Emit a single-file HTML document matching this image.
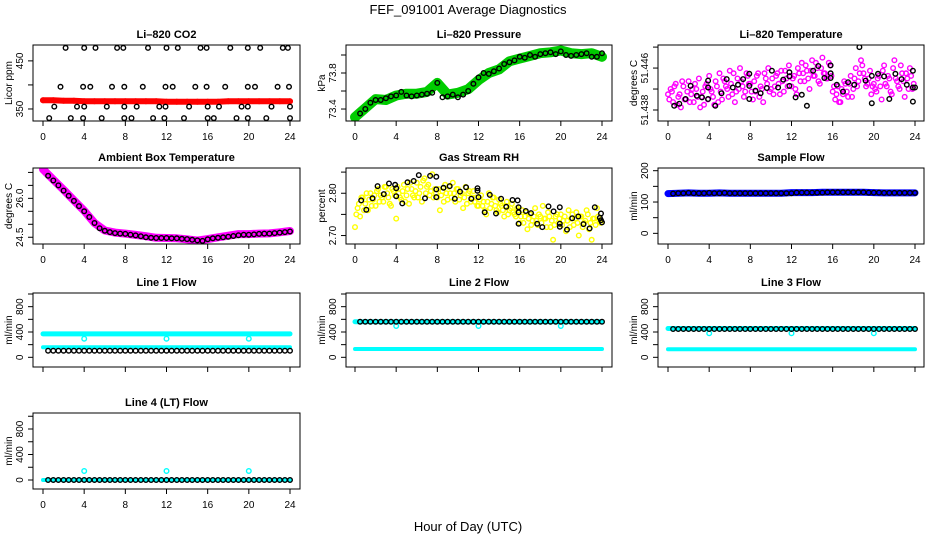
<!DOCTYPE html>
<html><head><meta charset="utf-8"><style>
html,body{margin:0;padding:0;background:#fff}
svg{display:block;font-family:"Liberation Sans",sans-serif}
</style></head><body>
<svg id="c" width="936" height="540" viewBox="0 0 936 540">
<text x="468" y="14" text-anchor="middle" font-size="13">FEF_091001  Average Diagnostics</text>
<text x="468" y="531" text-anchor="middle" font-size="13">Hour of Day (UTC)</text>
</svg>
<script>
const tHour=[0,1,2,3,4,5,6,7,8,9,10,11,12,13,14,15,16,17,18,19,20,21,22,23,24];
const tHalf=[0.5,1,1.5,2,2.5,3,3.5,4,4.5,5,5.5,6,6.5,7,7.5,8,8.5,9,9.5,10,10.5,11,11.5,12,12.5,13,13.5,14,14.5,15,15.5,16,16.5,17,17.5,18,18.5,19,19.5,20,20.5,21,21.5,22,22.5,23,23.5,24];
const tQuarter=[0,0.25,0.5,0.75,1,1.25,1.5,1.75,2,2.25,2.5,2.75,3,3.25,3.5,3.75,4,4.25,4.5,4.75,5,5.25,5.5,5.75,6,6.25,6.5,6.75,7,7.25,7.5,7.75,8,8.25,8.5,8.75,9,9.25,9.5,9.75,10,10.25,10.5,10.75,11,11.25,11.5,11.75,12,12.25,12.5,12.75,13,13.25,13.5,13.75,14,14.25,14.5,14.75,15,15.25,15.5,15.75,16,16.25,16.5,16.75,17,17.25,17.5,17.75,18,18.25,18.5,18.75,19,19.25,19.5,19.75,20,20.25,20.5,20.75,21,21.25,21.5,21.75,22,22.25,22.5,22.75,23,23.25,23.5,23.75];
const tQuarter2=tQuarter.map(t=>t+0.125);
const xTicks=[0,4,8,12,16,20,24];

const co2Red=[368,368,367,367,366,366,366,366,366,366,366,366,365,365,365,365,365,365,366,366,366,366,366,366,366];
const co2BlackT=[0.6,1.1,1.7,2.2,2.7,3.3,3.9,3.9,4.0,4.0,4.6,5.1,5.7,6.2,6.7,7.2,7.8,7.9,7.9,7.9,8.6,9.1,9.7,10.2,10.7,11.3,11.8,11.9,12.0,11.9,12.6,13.1,13.7,14.2,14.8,15.3,15.9,15.9,16.0,16.0,16.6,17.1,17.7,18.2,18.8,19.3,19.9,19.9,19.9,19.9,20.6,21.1,21.7,22.2,22.8,23.3,23.8,23.9,24.0,24.0];
const co2BlackV=[331,355,396,477,331,355,331,396,477,355,396,477,331,355,396,477,477,396,331,355,331,355,396,477,331,355,331,396,477,355,396,477,331,355,396,477,477,396,355,331,331,355,396,477,331,355,331,396,477,355,396,477,331,355,396,477,477,396,355,331];

const presGreen=[73.31,73.41,73.51,73.50,73.55,73.57,73.57,73.59,73.69,73.56,73.58,73.62,73.72,73.80,73.84,73.93,73.96,73.99,74.02,74.03,74.05,74.02,74.01,74.02,73.98];
const presBlack=[73.35,73.40,73.47,73.50,73.50,73.52,73.54,73.55,73.59,73.55,73.54,73.55,73.56,73.57,73.58,73.69,73.53,73.54,73.56,73.53,73.56,73.60,73.68,73.75,73.80,73.79,73.82,73.85,73.90,73.92,73.94,73.98,73.97,74.00,73.98,74.01,74.02,74.03,74.01,74.04,74.00,73.99,74.00,74.01,74.02,73.98,73.98,74.02];

const tempMag=[51.4410,51.4420,51.4395,51.4430,51.4405,51.4385,51.4425,51.4400,51.4435,51.4410,51.4395,51.4420,51.4440,51.4405,51.4390,51.4430,
51.4445,51.4415,51.4390,51.4425,51.4450,51.4400,51.4435,51.4420,51.4455,51.4410,51.4395,51.4440,51.4460,51.4425,51.4415,51.4445,
51.4430,51.4400,51.4415,51.4450,51.4425,51.4395,51.4440,51.4460,51.4420,51.4410,51.4445,51.4430,51.4455,51.4415,51.4440,51.4465,
51.4425,51.4445,51.4410,51.4450,51.4470,51.4435,51.4455,51.4420,51.4475,51.4445,51.4460,51.4430,51.4480,51.4450,51.4440,51.4465,
51.4415,51.4400,51.4425,51.4395,51.4410,51.4430,51.4405,51.4445,51.4420,51.4460,51.4435,51.4475,51.4450,51.4425,51.4440,51.4410,
51.4430,51.4415,51.4445,51.4400,51.4465,51.4425,51.4440,51.4410,51.4475,51.4435,51.4420,51.4450,51.4405,51.4440,51.4460,51.4420];
const tempMag2=[51.4400,51.4415,51.4425,51.4390,51.4410,51.4435,51.4400,51.4415,51.4395,51.4420,51.4430,51.4405,51.4385,51.4415,51.4425,51.4400,
51.4420,51.4405,51.4435,51.4395,51.4415,51.4440,51.4425,51.4405,51.4430,51.4450,51.4415,51.4420,51.4435,51.4405,51.4450,51.4430,
51.4415,51.4435,51.4445,51.4405,51.4420,51.4450,51.4430,51.4415,51.4440,51.4425,51.4450,51.4410,51.4435,51.4455,51.4425,51.4445,
51.4440,51.4420,51.4460,51.4435,51.4450,51.4465,51.4440,51.4455,51.4445,51.4470,51.4435,51.4460,51.4450,51.4440,51.4470,51.4445,
51.4425,51.4410,51.4395,51.4420,51.4435,51.4415,51.4430,51.4405,51.4440,51.4425,51.4450,51.4465,51.4440,51.4430,51.4455,51.4425,
51.4420,51.4440,51.4425,51.4455,51.4430,51.4445,51.4415,51.4460,51.4440,51.4425,51.4465,51.4435,51.4450,51.4420,51.4445,51.4430];
const tempBlackT=[0.6,1.1,1.7,2.2,2.8,3.3,3.9,3.9,3.9,4.6,5.2,5.7,6.3,6.8,7.3,7.9,7.9,7.9,8.5,9.0,9.6,10.1,10.7,11.2,11.8,11.8,11.8,12.4,13.0,13.5,14.1,14.6,15.2,15.8,15.8,15.8,16.4,17.0,17.5,18.1,18.6,19.2,19.8,19.8,20.4,21.0,21.5,22.1,22.7,23.2,23.8,23.8,23.8,24.0];
const tempBlackV=[51.4388,51.4392,51.4401,51.4426,51.4407,51.4404,51.4436,51.4423,51.4401,51.4388,51.4412,51.4439,51.4423,51.4428,51.4439,51.4449,51.4426,51.4401,51.4417,51.4412,51.4422,51.4455,51.4423,51.4438,51.4444,51.4452,51.4426,51.4404,51.4409,51.4388,51.4455,51.4464,51.4441,51.4450,51.4465,51.4441,51.4428,51.4415,51.4433,51.4428,51.4500,51.4436,51.4445,51.4393,51.4449,51.4444,51.4401,51.4449,51.4439,51.4428,51.4455,51.4423,51.4396,51.4423];

const ambMag=[27.12,26.72,26.33,25.92,25.52,25.05,24.76,24.68,24.64,24.59,24.54,24.48,24.47,24.46,24.42,24.37,24.43,24.50,24.56,24.62,24.62,24.64,24.65,24.69,24.74];
const ambBlack=[26.87,26.69,26.50,26.30,26.10,25.90,25.70,25.50,25.28,25.05,24.85,24.75,24.70,24.66,24.64,24.63,24.60,24.57,24.54,24.50,24.48,24.47,24.47,24.47,24.46,24.46,24.44,24.43,24.40,24.38,24.36,24.42,24.46,24.48,24.50,24.52,24.55,24.58,24.60,24.60,24.61,24.63,24.64,24.64,24.66,24.68,24.70,24.72];

const rhYellow=[2.720,2.765,2.745,2.790,2.775,2.760,2.800,2.785,2.770,2.810,2.795,2.780,2.815,2.790,2.770,2.805,
2.740,2.800,2.785,2.820,2.795,2.775,2.810,2.790,2.825,2.800,2.780,2.835,2.815,2.795,2.845,2.810,
2.790,2.760,2.805,2.820,2.785,2.800,2.825,2.780,2.810,2.795,2.765,2.815,2.800,2.780,2.805,2.790,
2.770,2.795,2.780,2.750,2.800,2.775,2.790,2.760,2.785,2.770,2.745,2.780,2.760,2.775,2.750,2.765,
2.730,2.760,2.745,2.715,2.750,2.735,2.765,2.725,2.745,2.770,2.740,2.755,2.720,2.690,2.745,2.730,
2.750,2.735,2.710,2.760,2.740,2.725,2.755,2.700,2.745,2.730,2.760,2.715,2.690,2.740,2.765,2.735];
const rhYellow2=[2.750,2.775,2.790,2.760,2.800,2.785,2.770,2.795,2.805,2.780,2.790,2.815,2.800,2.775,2.810,2.795,
2.815,2.790,2.805,2.780,2.810,2.825,2.795,2.805,2.790,2.815,2.830,2.800,2.820,2.805,2.790,2.800,
2.810,2.795,2.780,2.800,2.815,2.790,2.800,2.810,2.785,2.800,2.790,2.775,2.805,2.790,2.780,2.770,
2.785,2.770,2.760,2.780,2.765,2.790,2.770,2.755,2.775,2.760,2.770,2.750,2.765,2.755,2.745,2.760,
2.745,2.730,2.755,2.740,2.725,2.745,2.735,2.750,2.730,2.740,2.720,2.745,2.735,2.725,2.750,2.740,
2.725,2.745,2.735,2.720,2.750,2.740,2.730,2.745,2.720,2.735,2.750,2.730,2.740,2.725,2.745,2.730];
const rhBlackT=[0.6,1.1,1.7,2.2,2.8,3.3,3.9,4.0,4.0,4.6,5.1,5.7,6.2,6.8,7.3,7.9,7.9,7.9,8.6,9.2,9.7,10.2,10.8,11.3,11.9,11.9,12.0,12.6,13.1,13.7,14.2,14.7,15.3,15.8,15.9,15.9,15.9,16.6,17.1,17.7,18.2,18.8,19.3,19.9,19.9,19.9,20.6,21.1,21.7,22.2,22.8,23.3,23.8,23.9,24.0,23.9];
const rhBlackV=[2.783,2.761,2.788,2.817,2.798,2.823,2.820,2.812,2.793,2.776,2.826,2.829,2.843,2.788,2.841,2.839,2.809,2.791,2.813,2.817,2.787,2.804,2.814,2.787,2.812,2.806,2.791,2.755,2.796,2.752,2.787,2.768,2.784,2.783,2.767,2.755,2.728,2.758,2.753,2.728,2.720,2.769,2.757,2.767,2.728,2.721,2.714,2.741,2.745,2.727,2.717,2.767,2.742,2.752,2.731,2.736];

const sampBlue=[127,128,129,128,128,129,128,128,128,128,128,128,130,130,130,131,131,131,131,131,130,129,129,129,129];
const sampBlack=[127,128,128,129,128,128,128,129,128,128,129,128,128,128,128,128,128,128,128,128,128,128,128,128,130,130,130,130,130,130,131,131,131,131,131,131,131,131,130,130,130,129,129,129,129,129,129,129];

const dipT=[4,12,20];
const l1Hi=[370,370,370,370,370,370,370,370,370,370,370,370,370,370,370,370,370,370,370,370,370,370,370,370,370];
const l1Lo=[158,158,158,158,158,158,158,158,158,158,158,158,158,158,158,158,158,158,158,158,158,158,158,158,158];
const l1Black=[104,104,104,104,104,104,104,104,104,104,104,104,104,104,104,104,104,104,104,104,104,104,104,104,104,104,104,104,104,104,104,104,104,104,104,104,104,104,104,104,104,104,104,104,104,104,104,104];
const l1Dip=[294,294,294];
const l2Hi=[562,562,562,562,562,562,562,562,562,562,562,562,562,562,562,562,562,562,562,562,562,562,562,562,562];
const l2Lo=[131,131,131,131,131,131,131,131,131,131,131,131,131,131,131,131,131,131,131,131,131,131,131,131,131];
const l2Black=[562,562,562,562,562,562,562,562,562,562,562,562,562,562,562,562,562,562,562,562,562,562,562,562,562,562,562,562,562,562,562,562,562,562,562,562,562,562,562,562,562,562,562,562,562,562,562,562];
const l2Dip=[495,495,495];
const l3Hi=[455,455,455,455,455,455,455,455,455,455,455,455,455,455,455,455,455,455,455,455,455,455,455,455,455];
const l3Lo=[126,126,126,126,126,126,126,126,126,126,126,126,126,126,126,126,126,126,126,126,126,126,126,126,126];
const l3Black=[447,447,447,447,447,447,447,447,447,447,447,447,447,447,447,447,447,447,447,447,447,447,447,447,447,447,447,447,447,447,447,447,447,447,447,447,447,447,447,447,447,447,447,447,447,447,447,447];
const l3Dip=[380,380,380];
const l4Cyan=[0,0,0,0,0,0,0,0,0,0,0,0,0,0,0,0,0,0,0,0,0,0,0,0,0];
const l4Black=[0,0,0,0,0,0,0,0,0,0,0,0,0,0,0,0,0,0,0,0,0,0,0,0,0,0,0,0,0,0,0,0,0,0,0,0,0,0,0,0,0,0,0,0,0,0,0,0];
const l4Dip=[141,141,141];

const NS='http://www.w3.org/2000/svg';
const svg=document.getElementById('c');
function mk(tag,attrs,parent){const e=document.createElementNS(NS,tag);for(const k in attrs)e.setAttribute(k,attrs[k]);(parent||svg).appendChild(e);return e;}

const cols=[{l:33,r:300,x0:43,x24:290},{l:346,r:612,x0:355,x24:602},{l:658,r:924,x0:668,x24:915}];
const rows=[{t:45,b:121},{t:168,b:244},{t:293,b:367},{t:413,b:489}];

function panel(p){
  const c=cols[p.col],rw=rows[p.row];
  const g=mk('g',{});
  
  
  const xs=v=>c.x0+(v/24)*(c.x24-c.x0);
  const ys=v=>rw.b-(v-p.ylo)/(p.yhi-p.ylo)*(rw.b-rw.t);
  const cp='clip-'+p.name;
  const cl=mk('clipPath',{id:cp},g);mk('rect',{x:c.l,y:rw.t,width:c.r-c.l,height:rw.b-rw.t},cl);
  const dg=mk('g',{'clip-path':'url(#'+cp+')'},g);
  p.series.forEach(s=>{
    if(s.kind==='band'){
      const pts=s.x.map((t,i)=>xs(t).toFixed(1)+','+ys(s.y[i]).toFixed(1)).join(' ');
      const pl=mk('polyline',{points:pts,fill:'none',stroke:s.color,'stroke-width':s.w,'stroke-linejoin':'round','stroke-linecap':'round'},dg);
      
      
    }else{
      const sg=mk('g',{},dg);
      
      
      s.x.forEach((t,i)=>{
        const ci=mk('circle',{cx:xs(t).toFixed(1),cy:ys(s.y[i]).toFixed(1),r:2.3,fill:'none',stroke:s.color,'stroke-width':1.4},sg);
        
        
      });
    }
  });
  const box=mk('rect',{x:c.l,y:rw.t,width:c.r-c.l,height:rw.b-rw.t,fill:'none',stroke:'#000','stroke-width':1},g);
  
  
  const ti=mk('text',{x:(c.l+c.r)/2,y:rw.t-7,'text-anchor':'middle','font-size':11,'font-weight':'bold'},g);
  ti.textContent=p.title;
  
  
  xTicks.forEach(v=>{
    mk('line',{x1:xs(v),x2:xs(v),y1:rw.b,y2:rw.b+5,stroke:'#000'},g);
    if(p.xlabels){const t=mk('text',{x:xs(v),y:rw.b+19,'text-anchor':'middle','font-size':10},g);t.textContent=v;
      
      }
  });
  p.yticks.forEach(v=>{
    mk('line',{x1:c.l-5,x2:c.l,y1:ys(v),y2:ys(v),stroke:'#000'},g);
  });
  p.ylabels.forEach(v=>{
    const t=mk('text',{transform:'translate('+(c.l-10)+','+ys(v).toFixed(1)+') rotate(-90)','text-anchor':'middle','font-size':10},g);
    t.textContent=v;
    
    
  });
  const yt=mk('text',{transform:'translate('+(c.l-21)+','+((rw.t+rw.b)/2)+') rotate(-90)','text-anchor':'middle','font-size':10},g);
  yt.textContent=p.ylab;
  
  
}

const lineTicks=[0,200,400,600,800,1000], lineLabels=['0','400','800'];
panel({name:'co2-panel',col:0,row:0,title:'Li\u2013820 CO2',ylab:'Licor ppm',ylo:325,yhi:483,yticks:[350,400,450],ylabels:['350','450'],xlabels:true,
  series:[{kind:'band',name:'co2-red-band',x:tHour,y:co2Red,color:'#ff0000',w:6},{kind:'pts',name:'co2-red-points',x:tHour,y:co2Red,color:'#ff0000'},
  {kind:'pts',name:'co2-black-points',x:co2BlackT,y:co2BlackV,color:'#000'}]});
panel({name:'pressure-panel',col:1,row:0,title:'Li\u2013820 Pressure',ylab:'kPa',ylo:73.267,yhi:74.111,yticks:[73.4,73.6,73.8,74.0],ylabels:['73.4','73.8'],xlabels:true,
  series:[{kind:'band',name:'pressure-green-band',x:tHour,y:presGreen,color:'#00cc00',w:10},{kind:'pts',name:'pressure-black-points',x:tHalf,y:presBlack,color:'#000'}]});
panel({name:'temperature-panel',col:2,row:0,title:'Li\u2013820 Temperature',ylab:'degrees C',ylo:51.4359,yhi:51.4504,yticks:[51.438,51.442,51.446,51.450],ylabels:['51.438','51.446'],xlabels:true,
  series:[{kind:'pts',name:'temperature-magenta-points',x:tQuarter,y:tempMag,color:'#ff00ff'},{kind:'pts',name:'temperature-magenta-points-2',x:tQuarter2,y:tempMag2,color:'#ff00ff'},{kind:'pts',name:'temperature-black-points',x:tempBlackT,y:tempBlackV,color:'#000'}]});
panel({name:'ambient-panel',col:0,row:1,title:'Ambient Box Temperature',ylab:'degrees C',ylo:24.24,yhi:27.17,yticks:[24.5,25,25.5,26,26.5,27],ylabels:['24.5','26.0'],xlabels:true,
  series:[{kind:'band',name:'ambient-magenta-band',x:tHour,y:ambMag,color:'#ff00ff',w:8},{kind:'pts',name:'ambient-black-points',x:tHalf,y:ambBlack,color:'#000'}]});
panel({name:'rh-panel',col:1,row:1,title:'Gas Stream RH',ylab:'percent',ylo:2.680,yhi:2.8597,yticks:[2.70,2.75,2.80,2.85],ylabels:['2.70','2.80'],xlabels:true,
  series:[{kind:'pts',name:'rh-yellow-points',x:tQuarter,y:rhYellow,color:'#ffff00'},{kind:'pts',name:'rh-yellow-points-2',x:tQuarter2,y:rhYellow2,color:'#ffff00'},{kind:'pts',name:'rh-black-points',x:rhBlackT,y:rhBlackV,color:'#000'}]});
panel({name:'sample-flow-panel',col:2,row:1,title:'Sample Flow',ylab:'ml/min',ylo:-34,yhi:208.6,yticks:[0,50,100,150,200],ylabels:['0','100','200'],xlabels:true,
  series:[{kind:'band',name:'sample-blue-band',x:tHour,y:sampBlue,color:'#0000ff',w:7},{kind:'pts',name:'sample-black-points',x:tHalf,y:sampBlack,color:'#000'}]});
panel({name:'line1-panel',col:0,row:2,title:'Line 1 Flow',ylab:'ml/min',ylo:-153,yhi:1016,yticks:lineTicks,ylabels:lineLabels,xlabels:false,
  series:[{kind:'band',name:'line1-cyan-high',x:tHour,y:l1Hi,color:'#00ffff',w:5},{kind:'band',name:'line1-cyan-low',x:tHour,y:l1Lo,color:'#00ffff',w:4},
  {kind:'pts',name:'line1-cyan-dips',x:dipT,y:l1Dip,color:'#00ffff'},{kind:'pts',name:'line1-black-points',x:tHalf,y:l1Black,color:'#000'}]});
panel({name:'line2-panel',col:1,row:2,title:'Line 2 Flow',ylab:'ml/min',ylo:-153,yhi:1016,yticks:lineTicks,ylabels:lineLabels,xlabels:false,
  series:[{kind:'band',name:'line2-cyan-high',x:tHour,y:l2Hi,color:'#00ffff',w:5},{kind:'band',name:'line2-cyan-low',x:tHour,y:l2Lo,color:'#00ffff',w:4},
  {kind:'pts',name:'line2-cyan-dips',x:dipT,y:l2Dip,color:'#00ffff'},{kind:'pts',name:'line2-black-points',x:tHalf,y:l2Black,color:'#000'}]});
panel({name:'line3-panel',col:2,row:2,title:'Line 3 Flow',ylab:'ml/min',ylo:-153,yhi:1016,yticks:lineTicks,ylabels:lineLabels,xlabels:false,
  series:[{kind:'band',name:'line3-cyan-high',x:tHour,y:l3Hi,color:'#00ffff',w:5},{kind:'band',name:'line3-cyan-low',x:tHour,y:l3Lo,color:'#00ffff',w:4},
  {kind:'pts',name:'line3-cyan-dips',x:dipT,y:l3Dip,color:'#00ffff'},{kind:'pts',name:'line3-black-points',x:tHalf,y:l3Black,color:'#000'}]});
panel({name:'line4-panel',col:0,row:3,title:'Line 4 (LT) Flow',ylab:'ml/min',ylo:-141,yhi:1051,yticks:lineTicks,ylabels:lineLabels,xlabels:true,
  series:[{kind:'band',name:'line4-cyan-band',x:tHour,y:l4Cyan,color:'#00ffff',w:4},{kind:'pts',name:'line4-cyan-dips',x:dipT,y:l4Dip,color:'#00ffff'},
  {kind:'pts',name:'line4-black-points',x:tHalf,y:l4Black,color:'#000'}]});
</script>
</body></html>
